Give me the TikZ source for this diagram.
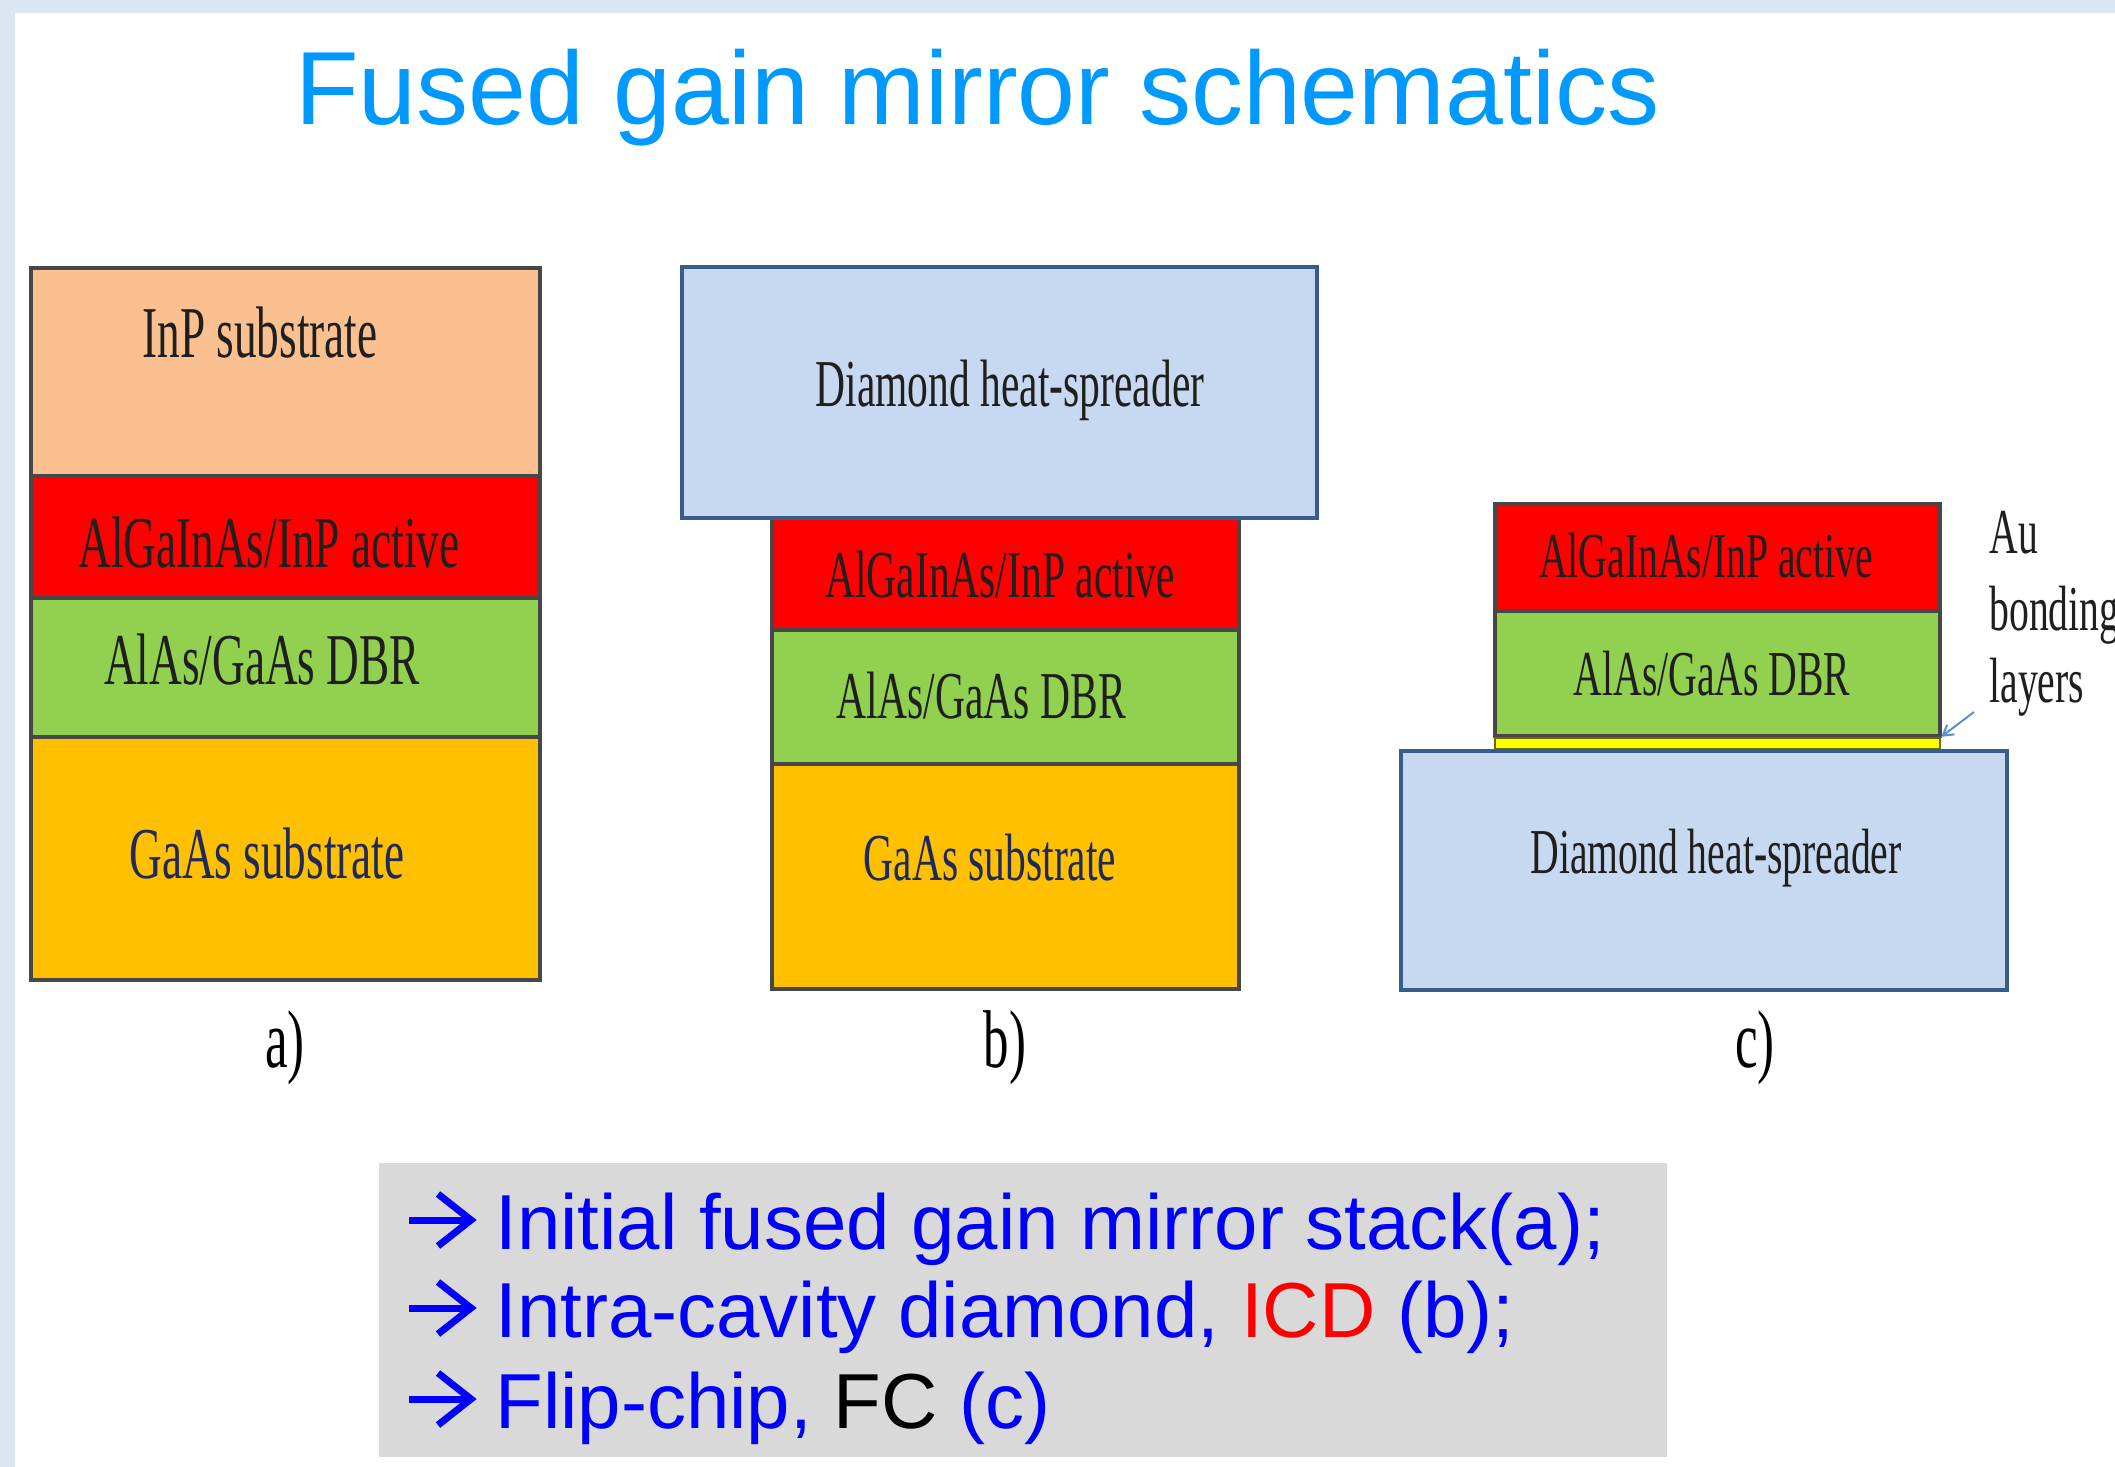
\documentclass[tikz,border=0pt]{standalone}
\usepackage{fontspec}
\usetikzlibrary{fit,arrows.meta}
\newfontfamily\tnr[FakeStretch=0.62]{Liberation Serif}
\newfontfamily\arialf{Liberation Sans}
\definecolor{frameblue}{HTML}{DCE6F2}
\definecolor{titleblue}{HTML}{0099FF}
\definecolor{inpc}{HTML}{FAC090}
\definecolor{actc}{HTML}{FF0000}
\definecolor{dbrc}{HTML}{92D050}
\definecolor{gaasc}{HTML}{FFC000}
\definecolor{diaf}{HTML}{C6D9F1}
\definecolor{diab}{HTML}{385D8A}
\definecolor{auc}{HTML}{FFFF00}
\definecolor{aub}{HTML}{6B6B00}
\definecolor{boxgray}{HTML}{D9D9D9}
\definecolor{navytxt}{HTML}{1F2A5A}
\definecolor{arrowblue}{HTML}{5B8FD0}
\definecolor{txtblue}{HTML}{0000FF}
\begin{document}
\begin{tikzpicture}[x=0.5pt,y=-0.5pt,
  layer/.style={draw=black!72, line width=1.6pt, inner sep=0pt},
  diabox/.style={draw=diab, fill=diaf, line width=2pt, inner sep=0pt},
  txtA/.style={font=\tnr\fontsize{36.5pt}{40pt}\selectfont, anchor=base, inner sep=0pt, text=black!88},
  txtB/.style={font=\tnr\fontsize{33.5pt}{37pt}\selectfont, anchor=base, inner sep=0pt, text=black!88},
  txtC/.style={font=\tnr\fontsize{32pt}{36pt}\selectfont, anchor=base, inner sep=0pt, text=black!88},
  sublabel/.style={font=\tnr\fontsize{41pt}{45pt}\selectfont, anchor=base, inner sep=0pt, text=black},
  noteline/.style={font=\arialf\fontsize{39pt}{44pt}\selectfont, anchor=base west, inner sep=0pt, text=txtblue},
  bularrow/.style={draw=txtblue, line width=3.5pt, line join=miter, line cap=butt}]
\useasboundingbox (0,0) rectangle (2115,1467);
% background frame
\fill[white] (0,0) rectangle (2115,1467);
\fill[frameblue] (0,0) rectangle (2115,13);
\fill[frameblue] (0,0) rectangle (15,1467);
% title
\node[font=\arialf\fontsize{52pt}{57pt}\selectfont, text=titleblue, anchor=base west, inner sep=0pt] (title) at (295,124) {Fused gain mirror schematics};
% ---- stack a)
\node[layer, fill=inpc, fit={(31,268) (540,476)}] (a1) {};
\node[layer, fill=actc, fit={(31,476) (540,598)}] (a2) {};
\node[layer, fill=dbrc, fit={(31,598) (540,737)}] (a3) {};
\node[layer, fill=gaasc, fit={(31,737) (540,980)}] (a4) {};
\node[txtA] (a1t) at (260,357) {InP substrate};
\node[txtA] (a2t) at (269,567) {AlGaInAs/InP active};
\node[txtA] (a3t) at (262,684) {AlAs/GaAs DBR};
\node[txtA, text=navytxt] (a4t) at (267,878) {GaAs substrate};
\node[sublabel] (la) at (285,1067) {a)};
% ---- stack b)
\node[layer, fill=actc, fit={(772,518) (1239,630)}] (b2) {};
\node[layer, fill=dbrc, fit={(772,630) (1239,764)}] (b3) {};
\node[layer, fill=gaasc, fit={(772,764) (1239,989)}] (b4) {};
\node[diabox, fit={(682,267) (1317,518)}] (b1) {};
\node[txtB] (b1t) at (1010,406) {Diamond heat-spreader};
\node[txtB] (b2t) at (1000,597) {AlGaInAs/InP active};
\node[txtB] (b3t) at (981,718) {AlAs/GaAs DBR};
\node[txtB, text=navytxt] (b4t) at (990,880) {GaAs substrate};
\node[sublabel] (lb) at (1005,1067) {b)};
% ---- stack c)
\node[layer, fill=actc, fit={(1495,504) (1940,611)}] (c1) {};
\node[layer, fill=dbrc, fit={(1495,611) (1940,736)}] (c2) {};
\node[layer, draw=aub, fill=auc, line width=1.2pt, fit={(1495,738) (1940,749)}] (c3) {};
\node[diabox, fit={(1401,751) (2007,990)}] (c4) {};
\node[txtC] (c1t) at (1706,577) {AlGaInAs/InP active};
\node[txtC] (c2t) at (1712,695) {AlAs/GaAs DBR};
\node[txtC] (c4t) at (1716,873) {Diamond heat-spreader};
\node[sublabel] (lc) at (1755,1067) {c)};
% Au bonding label
\node[txtC, anchor=base west] (au1) at (1989,553) {Au};
\node[txtC, anchor=base west] (au2) at (1989,630) {bonding};
\node[txtC, anchor=base west] (au3) at (1989,702) {layers};
\coordinate (aupt) at (1974,712);
\draw[arrowblue, line width=1pt, -{Straight Barb[length=5pt,width=6pt]}] (aupt) -- (c3.north east);
% ---- notes box
\node[fill=boxgray, inner sep=0pt, fit={(379,1163) (1667,1457)}] (notes) {};
\node[noteline] (n1) at (495,1249) {Initial fused gain mirror stack(a);};
\node[noteline] (n2) at (495,1337) {Intra-cavity diamond, {\color{red}ICD} (b);};
\node[noteline] (n3) at (495,1428) {Flip-chip, {\color{black}FC} (c)};
% bullet arrows
\foreach \n in {n1,n2,n3}{
  \draw[bularrow, shift={(\n.base west)}] (-86,-29) -- (-26,-29);
  \draw[bularrow, shift={(\n.base west)}] (-57,-55) -- (-24,-29) -- (-57,-3);
}
\end{tikzpicture}
\end{document}
